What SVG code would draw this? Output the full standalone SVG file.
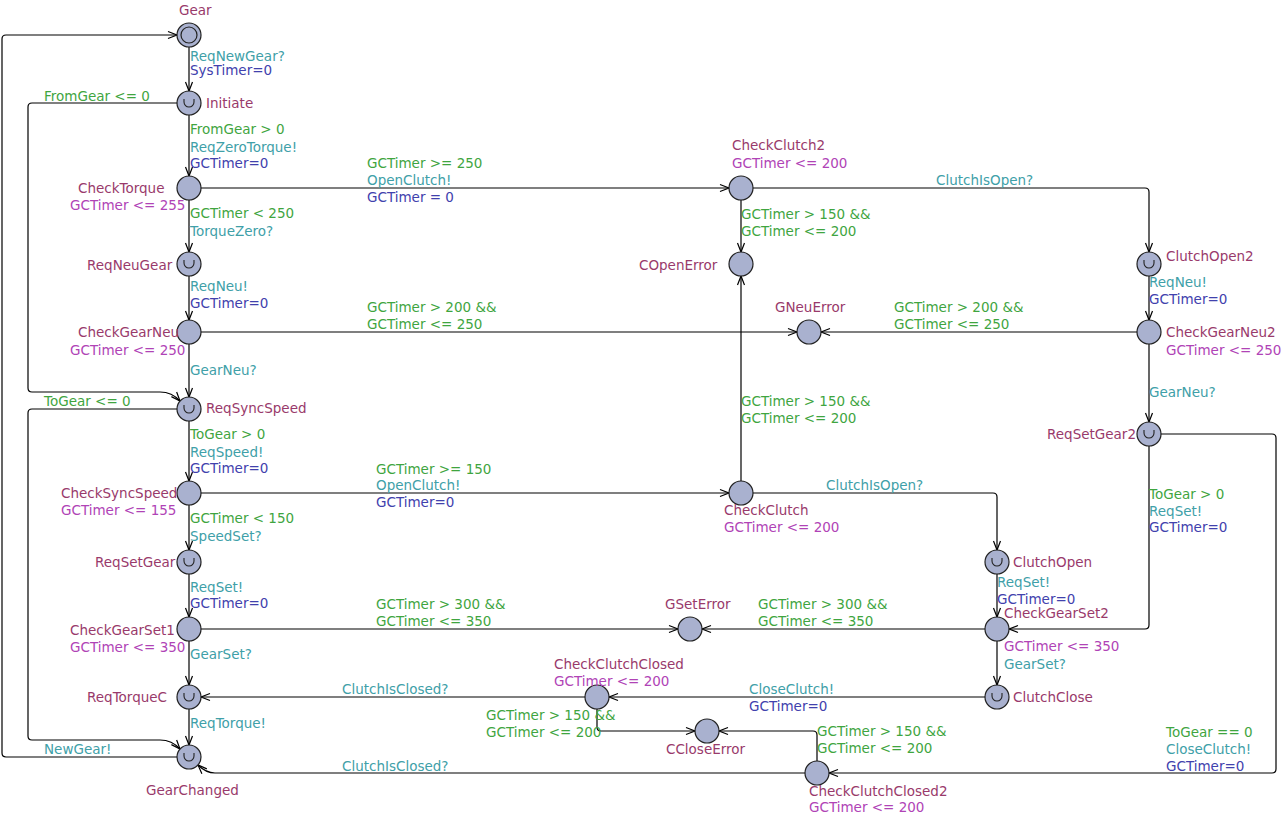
<svg xmlns="http://www.w3.org/2000/svg" width="1284" height="817" viewBox="0 0 1284 817">
<style>
text{font-family:"DejaVu Sans","Liberation Sans",sans-serif;font-size:13.5px}
.n{fill:#993a6b}.i{fill:#b043b6}.g{fill:#3fa53f}.s{fill:#40a0a8}.u{fill:#4141ad}
.loc{fill:#a9b1cf;stroke:#222;stroke-width:1.2}
.urg{fill:none;stroke:#222;stroke-width:1.1}
.e{fill:none;stroke:#000;stroke-width:1.2;marker-end:url(#ah)}
</style>
<defs>
<marker id="ah" markerWidth="12" markerHeight="10" refX="10" refY="5" orient="auto" markerUnits="userSpaceOnUse"><path d="M1,1.5 L10,5 L1,8.5" fill="none" stroke="#000" stroke-width="1.2"/></marker>
<path id="U" d="M-5,-4 L-5,-1 A5,5 0 0 0 5,-1 L5,-4" class="urg"/>
</defs>
<rect width="1284" height="817" fill="#fff"/>
<g id="connectors">
<path class="e" d="M189,47 V91"/>
<path class="e" d="M177,103 H32 Q28,103 28,107 V388 Q28,392 32,392 H160 Q172,392 180,401"/>
<path class="e" d="M189,115 V176"/>
<path class="e" d="M201,188 H729"/>
<path class="e" d="M189,200 V252"/>
<path class="e" d="M189,276 V320"/>
<path class="e" d="M201,332 H797"/>
<path class="e" d="M189,344 V397"/>
<path class="e" d="M177,409 H32 Q28,409 28,413 V736 Q28,740 32,740 H160 Q172,740 180,749"/>
<path class="e" d="M189,421 V481"/>
<path class="e" d="M201,493 H729"/>
<path class="e" d="M189,505 V550"/>
<path class="e" d="M189,574 V617"/>
<path class="e" d="M201,629 H678"/>
<path class="e" d="M189,641 V685"/>
<path class="e" d="M189,709 V745"/>
<path class="e" d="M177,757 H6 Q2,757 2,753 V39 Q2,35 6,35 H177"/>
<path class="e" d="M741,200 V252"/>
<path class="e" d="M753,188 H1145 Q1149,188 1149,192 V252"/>
<path class="e" d="M1149,276 V320"/>
<path class="e" d="M1137,332 H821"/>
<path class="e" d="M1149,344 V422"/>
<path class="e" d="M1149,446 V625 Q1149,629 1145,629 H1009"/>
<path class="e" d="M1161,434 H1272 Q1276,434 1276,438 V769 Q1276,773 1272,773 H829"/>
<path class="e" d="M741,481 V276"/>
<path class="e" d="M753,493 H993 Q997,493 997,497 V550"/>
<path class="e" d="M997,574 V617"/>
<path class="e" d="M985,629 H702"/>
<path class="e" d="M997,641 V685"/>
<path class="e" d="M985,697 H609"/>
<path class="e" d="M585,697 H201"/>
<path class="e" d="M597,709 V727 Q597,731 601,731 H695"/>
<path class="e" d="M817,761 V735 Q817,731 813,731 H719"/>
<path class="e" d="M805,773 H215 Q206,773 198,765"/>
</g>
<g id="edge-labels">
<text class="s" x="190" y="61">ReqNewGear?</text><text class="u" x="190" y="75">SysTimer=0</text>
<text class="g" x="44" y="101">FromGear &lt;= 0</text>
<text class="g" x="190" y="134">FromGear &gt; 0</text><text class="s" x="190" y="151.5">ReqZeroTorque!</text><text class="u" x="190" y="168">GCTimer=0</text>
<text class="g" x="367" y="168">GCTimer &gt;= 250</text><text class="s" x="367" y="185">OpenClutch!</text><text class="u" x="367" y="202">GCTimer = 0</text>
<text class="g" x="190" y="218">GCTimer &lt; 250</text><text class="s" x="190" y="235.5">TorqueZero?</text>
<text class="s" x="190" y="291">ReqNeu!</text><text class="u" x="190" y="307.5">GCTimer=0</text>
<text class="g" x="367" y="312">GCTimer &gt; 200 &amp;&amp;</text><text class="g" x="367" y="328.5">GCTimer &lt;= 250</text>
<text class="s" x="190" y="375">GearNeu?</text>
<text class="g" x="44" y="406">ToGear &lt;= 0</text>
<text class="g" x="190" y="439">ToGear &gt; 0</text><text class="s" x="190" y="456.5">ReqSpeed!</text><text class="u" x="190" y="473">GCTimer=0</text>
<text class="g" x="376" y="474">GCTimer &gt;= 150</text><text class="s" x="376" y="490">OpenClutch!</text><text class="u" x="376" y="507">GCTimer=0</text>
<text class="g" x="190" y="523">GCTimer &lt; 150</text><text class="s" x="190" y="540.5">SpeedSet?</text>
<text class="s" x="190" y="591.5">ReqSet!</text><text class="u" x="190" y="607.5">GCTimer=0</text>
<text class="g" x="376" y="609">GCTimer &gt; 300 &amp;&amp;</text><text class="g" x="376" y="626">GCTimer &lt;= 350</text>
<text class="s" x="190" y="659">GearSet?</text>
<text class="s" x="190" y="727.5">ReqTorque!</text>
<text class="s" x="44" y="754">NewGear!</text>
<text class="g" x="741" y="218.5">GCTimer &gt; 150 &amp;&amp;</text><text class="g" x="741" y="235.5">GCTimer &lt;= 200</text>
<text class="s" x="936" y="185">ClutchIsOpen?</text>
<text class="s" x="1149" y="286.5">ReqNeu!</text><text class="u" x="1149" y="303.5">GCTimer=0</text>
<text class="g" x="894" y="312">GCTimer &gt; 200 &amp;&amp;</text><text class="g" x="894" y="328.5">GCTimer &lt;= 250</text>
<text class="s" x="1149" y="397">GearNeu?</text>
<text class="g" x="1149" y="499">ToGear &gt; 0</text><text class="s" x="1149" y="516">ReqSet!</text><text class="u" x="1149" y="532">GCTimer=0</text>
<text class="g" x="1166" y="736.5">ToGear == 0</text><text class="s" x="1166" y="753.5">CloseClutch!</text><text class="u" x="1166" y="770.5">GCTimer=0</text>
<text class="g" x="741" y="405.5">GCTimer &gt; 150 &amp;&amp;</text><text class="g" x="741" y="422.5">GCTimer &lt;= 200</text>
<text class="s" x="826" y="490">ClutchIsOpen?</text>
<text class="s" x="997" y="587">ReqSet!</text><text class="u" x="997" y="603.5">GCTimer=0</text>
<text class="g" x="758" y="609">GCTimer &gt; 300 &amp;&amp;</text><text class="g" x="758" y="625.5">GCTimer &lt;= 350</text>
<text class="s" x="1004" y="668.5">GearSet?</text>
<text class="s" x="749" y="694">CloseClutch!</text><text class="u" x="749" y="711">GCTimer=0</text>
<text class="s" x="342" y="694">ClutchIsClosed?</text>
<text class="g" x="486" y="719.5">GCTimer &gt; 150 &amp;&amp;</text><text class="g" x="486" y="736.5">GCTimer &lt;= 200</text>
<text class="g" x="817" y="736">GCTimer &gt; 150 &amp;&amp;</text><text class="g" x="817" y="753">GCTimer &lt;= 200</text>
<text class="s" x="342" y="771">ClutchIsClosed?</text>
</g>
<g id="Gear"><circle class="loc" cx="189" cy="35" r="12"/><circle class="loc" cx="189" cy="35" r="8"/><text class="n" x="179" y="15">Gear</text></g>
<g id="Initiate"><circle class="loc" cx="189" cy="103" r="12"/><use href="#U" x="189" y="103"/><text class="n" x="206" y="108">Initiate</text></g>
<g id="CheckTorque"><circle class="loc" cx="189" cy="188" r="12"/><text class="n" x="78" y="193">CheckTorque</text><text class="i" x="70" y="210">GCTimer &lt;= 255</text></g>
<g id="ReqNeuGear"><circle class="loc" cx="189" cy="264" r="12"/><use href="#U" x="189" y="264"/><text class="n" x="87" y="270">ReqNeuGear</text></g>
<g id="CheckGearNeu"><circle class="loc" cx="189" cy="332" r="12"/><text class="n" x="78" y="337">CheckGearNeu</text><text class="i" x="70" y="355">GCTimer &lt;= 250</text></g>
<g id="ReqSyncSpeed"><circle class="loc" cx="189" cy="409" r="12"/><use href="#U" x="189" y="409"/><text class="n" x="206" y="413">ReqSyncSpeed</text></g>
<g id="CheckSyncSpeed"><circle class="loc" cx="189" cy="493" r="12"/><text class="n" x="61" y="498">CheckSyncSpeed</text><text class="i" x="61" y="515">GCTimer &lt;= 155</text></g>
<g id="ReqSetGear"><circle class="loc" cx="189" cy="562" r="12"/><use href="#U" x="189" y="562"/><text class="n" x="95" y="567">ReqSetGear</text></g>
<g id="CheckGearSet1"><circle class="loc" cx="189" cy="629" r="12"/><text class="n" x="70" y="635">CheckGearSet1</text><text class="i" x="70" y="652">GCTimer &lt;= 350</text></g>
<g id="ReqTorqueC"><circle class="loc" cx="189" cy="697" r="12"/><use href="#U" x="189" y="697"/><text class="n" x="87" y="702">ReqTorqueC</text></g>
<g id="GearChanged"><circle class="loc" cx="189" cy="757" r="12"/><use href="#U" x="189" y="757"/><text class="n" x="146" y="795">GearChanged</text></g>
<g id="CheckClutch2"><circle class="loc" cx="741" cy="188" r="12"/><text class="n" x="732" y="150">CheckClutch2</text><text class="i" x="732" y="168">GCTimer &lt;= 200</text></g>
<g id="COpenError"><circle class="loc" cx="741" cy="264" r="12"/><text class="n" x="639" y="270">COpenError</text></g>
<g id="GNeuError"><circle class="loc" cx="809" cy="332" r="12"/><text class="n" x="775" y="312">GNeuError</text></g>
<g id="ClutchOpen2"><circle class="loc" cx="1149" cy="264" r="12"/><use href="#U" x="1149" y="264"/><text class="n" x="1166" y="261">ClutchOpen2</text></g>
<g id="CheckGearNeu2"><circle class="loc" cx="1149" cy="332" r="12"/><text class="n" x="1166" y="337">CheckGearNeu2</text><text class="i" x="1166" y="355">GCTimer &lt;= 250</text></g>
<g id="ReqSetGear2"><circle class="loc" cx="1149" cy="434" r="12"/><use href="#U" x="1149" y="434"/><text class="n" x="1047" y="439">ReqSetGear2</text></g>
<g id="CheckClutch"><circle class="loc" cx="741" cy="493" r="12"/><text class="n" x="724" y="515">CheckClutch</text><text class="i" x="724" y="532">GCTimer &lt;= 200</text></g>
<g id="ClutchOpen"><circle class="loc" cx="997" cy="562" r="12"/><use href="#U" x="997" y="562"/><text class="n" x="1013" y="567">ClutchOpen</text></g>
<g id="GSetError"><circle class="loc" cx="690" cy="629" r="12"/><text class="n" x="665" y="609">GSetError</text></g>
<g id="CheckGearSet2"><circle class="loc" cx="997" cy="629" r="12"/><text class="n" x="1004" y="618">CheckGearSet2</text><text class="i" x="1004" y="651">GCTimer &lt;= 350</text></g>
<g id="ClutchClose"><circle class="loc" cx="997" cy="697" r="12"/><use href="#U" x="997" y="697"/><text class="n" x="1013" y="702">ClutchClose</text></g>
<g id="CheckClutchClosed"><circle class="loc" cx="597" cy="697" r="12"/><text class="n" x="554" y="669">CheckClutchClosed</text><text class="i" x="554" y="686">GCTimer &lt;= 200</text></g>
<g id="CCloseError"><circle class="loc" cx="707" cy="731" r="12"/><text class="n" x="666" y="754">CCloseError</text></g>
<g id="CheckClutchClosed2"><circle class="loc" cx="817" cy="773" r="12"/><text class="n" x="809" y="796">CheckClutchClosed2</text><text class="i" x="809" y="812">GCTimer &lt;= 200</text></g>
</svg>
